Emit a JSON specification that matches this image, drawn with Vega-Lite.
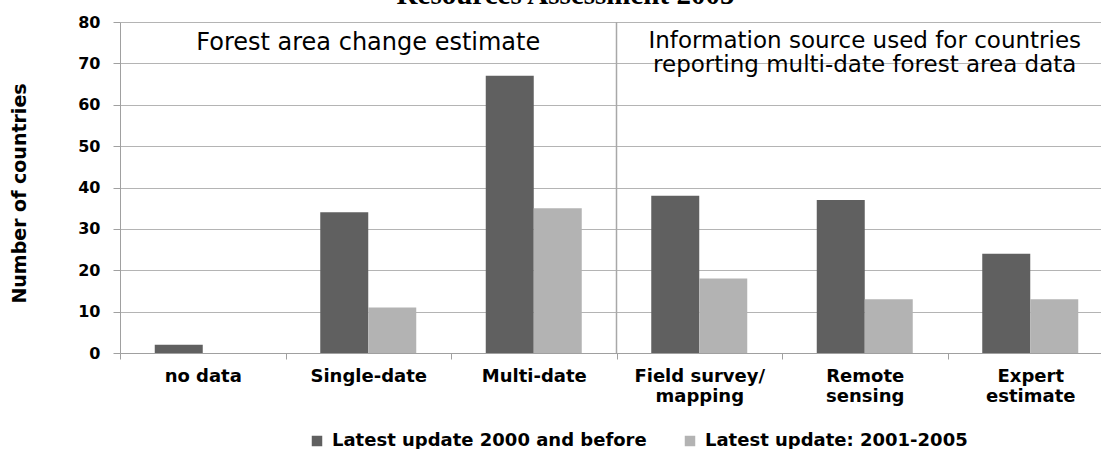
{
  "$schema": "https://vega.github.io/schema/vega-lite/v6.json",
  "width": 981,
  "height": 331,
  "autosize": "none",
  "padding": {"left": 120, "top": 22, "right": 0, "bottom": 96},
  "background": "white",
  "title": {
    "text": "Resources Assessment 2005",
    "font": "Liberation Serif",
    "fontSize": 29,
    "fontWeight": "bold",
    "color": "#000000",
    "anchor": "middle",
    "dx": -45,
    "offset": -19,
    "baseline": "alphabetic"
  },
  "config": {
    "view": {"stroke": null}
  },
  "datasets": {
    "bars": [
      {"category": "no data", "series": "Latest update 2000 and before", "count": 2},
      {"category": "no data", "series": "Latest update: 2001-2005", "count": 0},
      {"category": "Single-date", "series": "Latest update 2000 and before", "count": 34},
      {"category": "Single-date", "series": "Latest update: 2001-2005", "count": 11},
      {"category": "Multi-date", "series": "Latest update 2000 and before", "count": 67},
      {"category": "Multi-date", "series": "Latest update: 2001-2005", "count": 35},
      {"category": "Field survey/mapping", "series": "Latest update 2000 and before", "count": 38},
      {"category": "Field survey/mapping", "series": "Latest update: 2001-2005", "count": 18},
      {"category": "Remote sensing", "series": "Latest update 2000 and before", "count": 37},
      {"category": "Remote sensing", "series": "Latest update: 2001-2005", "count": 13},
      {"category": "Expert estimate", "series": "Latest update 2000 and before", "count": 24},
      {"category": "Expert estimate", "series": "Latest update: 2001-2005", "count": 13}
    ],
    "divider": [
      {"category": "Field survey/mapping"}
    ],
    "note1": [
      {"category": "Single-date", "pos": 73.2, "text": "Forest area change estimate"}
    ],
    "note2": [
      {"category": "Remote sensing", "pos": 73.7, "text": "Information source used for countries\nreporting multi-date forest area data"}
    ]
  },
  "layer": [
    {
      "data": {"name": "bars"},
      "mark": {"type": "bar"},
      "encoding": {
        "x": {
          "field": "category",
          "type": "nominal",
          "sort": ["no data", "Single-date", "Multi-date", "Field survey/mapping", "Remote sensing", "Expert estimate"],
          "scale": {"paddingInner": 0, "paddingOuter": 0, "range": [0, 993]},
          "axis": {
            "title": null,
            "labelAngle": 0,
            "labelFont": "DejaVu Sans",
            "labelFontWeight": "bold",
            "labelFontSize": 18,
            "labelColor": "#000000",
            "labelLineHeight": 20,
            "labelPadding": 8,
            "tickBand": "extent",
            "tickSize": 6,
            "tickColor": "#a0a0a0",
            "domainColor": "#a0a0a0",
            "grid": false,
            "labelExpr": "datum.value == 'Field survey/mapping' ? ['Field survey/', 'mapping'] : datum.value == 'Remote sensing' ? ['Remote', 'sensing'] : datum.value == 'Expert estimate' ? ['Expert', 'estimate'] : datum.label"
          }
        },
        "xOffset": {
          "field": "series",
          "type": "nominal",
          "sort": ["Latest update 2000 and before", "Latest update: 2001-2005"],
          "scale": {"paddingInner": 0, "paddingOuter": 0.724}
        },
        "y": {
          "field": "count",
          "type": "quantitative",
          "scale": {"domain": [0, 80], "nice": false},
          "axis": {
            "values": [0, 10, 20, 30, 40, 50, 60, 70, 80],
            "title": "Number of countries",
            "titleFont": "DejaVu Sans",
            "titleFontSize": 19,
            "titleFontWeight": "bold",
            "titleColor": "#000000",
            "titlePadding": 48,
            "titleY": 171,
            "labelFont": "DejaVu Sans",
            "labelFontWeight": "bold",
            "labelFontSize": 16,
            "labelColor": "#000000",
            "labelPadding": 13,
            "tickSize": 7,
            "tickColor": "#a0a0a0",
            "domainColor": "#a0a0a0",
            "gridColor": "#b4b4b4",
            "grid": true
          }
        },
        "color": {
          "field": "series",
          "type": "nominal",
          "sort": ["Latest update 2000 and before", "Latest update: 2001-2005"],
          "scale": {"range": ["#606060", "#b3b3b3"]},
          "legend": {
            "orient": "none",
            "legendX": 188,
            "legendY": 410,
            "direction": "horizontal",
            "title": null,
            "symbolType": "square",
            "symbolSize": 110,
            "symbolStrokeWidth": 0,
            "labelFont": "DejaVu Sans",
            "labelFontWeight": "bold",
            "labelFontSize": 18,
            "labelColor": "#000000",
            "labelOffset": 6,
            "columnPadding": 34,
            "labelLimit": 500
          }
        }
      }
    },
    {
      "data": {"name": "divider"},
      "mark": {"type": "rule", "color": "#a8a8a8", "strokeWidth": 1.5},
      "encoding": {
        "x": {"field": "category", "type": "nominal", "bandPosition": 0, "sort": ["no data", "Single-date", "Multi-date", "Field survey/mapping", "Remote sensing", "Expert estimate"]}
      }
    },
    {
      "data": {"name": "note1"},
      "mark": {"type": "text", "font": "DejaVu Sans", "fontSize": 24, "color": "#000000", "baseline": "alphabetic", "align": "center"},
      "encoding": {
        "x": {"field": "category", "type": "nominal", "bandPosition": 0.5, "sort": ["no data", "Single-date", "Multi-date", "Field survey/mapping", "Remote sensing", "Expert estimate"]},
        "y": {"field": "pos", "type": "quantitative"},
        "text": {"field": "text"}
      }
    },
    {
      "data": {"name": "note2"},
      "mark": {"type": "text", "font": "DejaVu Sans", "fontSize": 23, "color": "#000000", "baseline": "alphabetic", "align": "center", "lineBreak": "\n", "lineHeight": 24},
      "encoding": {
        "x": {"field": "category", "type": "nominal", "bandPosition": 0.5, "sort": ["no data", "Single-date", "Multi-date", "Field survey/mapping", "Remote sensing", "Expert estimate"]},
        "y": {"field": "pos", "type": "quantitative"},
        "text": {"field": "text"}
      }
    }
  ]
}
